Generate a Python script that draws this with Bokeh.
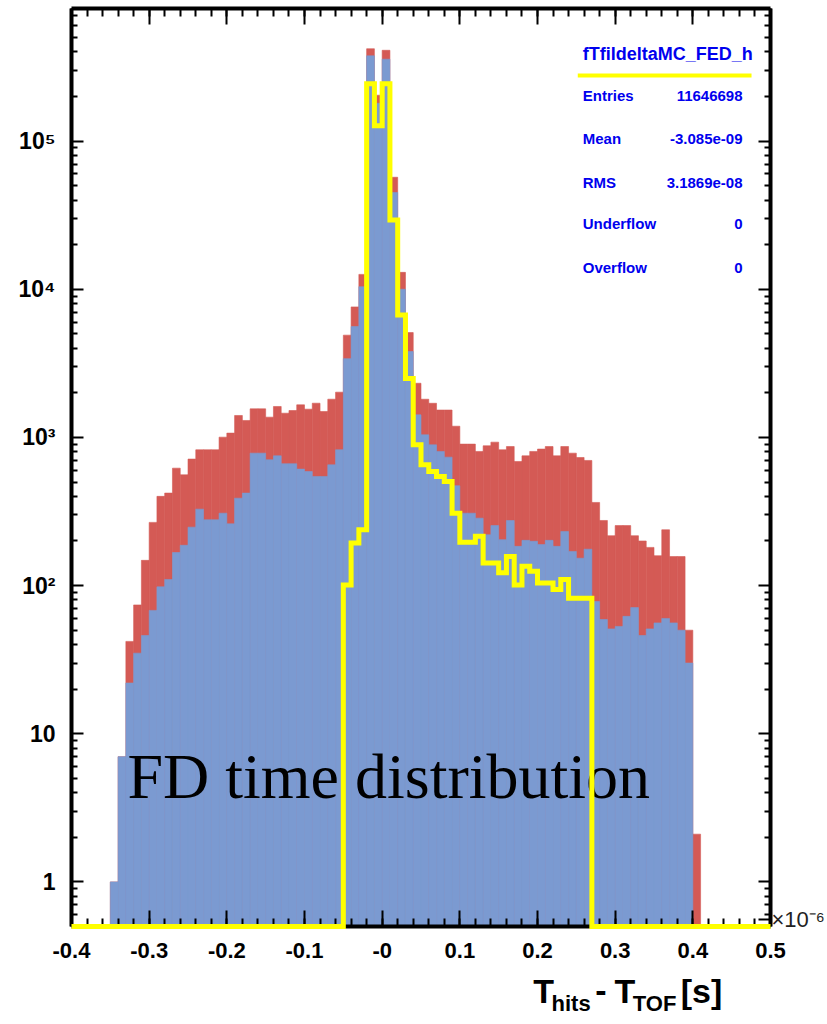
import math
from bokeh.plotting import figure
from bokeh.layouts import column
from bokeh.models import Range1d, FixedTicker, LinearAxis, LogAxis, Label
from bokeh.core.properties import value
from bokeh.embed import file_html
from bokeh.resources import INLINE

# ---------------- data ----------------
bin_start = -0.4
bin_width = 0.01
n_bins = 90

red_counts = [
    0, 0, 0, 0, 0, 1, 7, 42, 74, 148,
    267, 400, 421, 620, 559, 714, 825, 825, 825, 1004,
    1069, 1406, 1301, 1559, 1559, 1370, 1617, 1457, 1519, 1659,
    1551, 1702, 1496, 1811, 2020, 4900, 7600, 12600, 420000, 204000,
    410000, 57000, 13000, 5100, 2320, 1810, 1700, 1530, 1530, 1190,
    901, 901, 804, 878, 929, 825, 868, 688, 751, 804,
    834, 868, 751, 868, 783, 732, 699, 364, 275, 217,
    254, 254, 217, 200, 181, 159, 238, 157, 157, 50,
    2.1, 0, 0, 0, 0, 0, 0, 0, 0, 0,
]
blue_counts = [
    0, 0, 0, 0, 0, 1, 7, 22, 35, 46,
    68, 98, 110, 167, 187, 248, 328, 278, 278, 308,
    261, 389, 421, 783, 783, 706, 751, 664, 664, 611,
    589, 545, 545, 653, 825, 3400, 5600, 10400, 376000, 180000,
    357000, 45000, 10000, 3800, 1420, 1041, 891, 804, 736, 472,
    308, 308, 285, 220, 254, 204, 275, 184, 202, 199,
    189, 202, 184, 232, 170, 153, 176, 78, 59, 51,
    53, 62, 71, 46, 51, 56, 60, 56, 50, 30,
    0, 0, 0, 0, 0, 0, 0, 0, 0, 0,
]
yellow_counts = [
    0, 0, 0, 0, 0, 0, 0, 0, 0, 0,
    0, 0, 0, 0, 0, 0, 0, 0, 0, 0,
    0, 0, 0, 0, 0, 0, 0, 0, 0, 0,
    0, 0, 0, 0, 0, 101, 194, 238, 244000, 127000,
    244000, 29300, 6700, 2500, 893, 653, 589, 545, 504, 308,
    196, 196, 215, 142, 142, 122, 157, 101, 135, 125,
    104, 104, 94, 110, 82, 82, 82, 0, 0, 0,
    0, 0, 0, 0, 0, 0, 0, 0, 0, 0,
    0, 0, 0, 0, 0, 0, 0, 0, 0, 0,
]

x_ticks = [-0.4, -0.3, -0.2, -0.1, 0.0, 0.1, 0.2, 0.3, 0.4, 0.5]
x_tick_labels = ["-0.4", "-0.3", "-0.2", "-0.1", "-0", "0.1", "0.2", "0.3", "0.4", "0.5"]
x_minor_ticks = [round(-0.4 + 0.02 * i, 2) for i in range(46)]
y_ticks = [1, 10, 100, 1000, 10000, 100000]
y_tick_labels = ["1", "10", "10\u00b2", "10\u00b3", "10\u2074", "10\u2075"]
y_minor_ticks = [0.6, 0.7, 0.8, 0.9] + [m * 10 ** d for d in range(6) for m in range(2, 10)]
exponent_text = "\u00d710\u207b\u2076"
exponent_tick = 0.56

stats_title = "fTfildeltaMC_FED_h"
stats_names = ["Entries", "Mean", "RMS", "Underflow", "Overflow"]
stats_values = ["11646698", "-3.085e-09", "3.1869e-08", "0", "0"]
annotation_text = "FD time distribution"
# (text, size class, space before it)
title_parts = [("T", "big", False), ("hits", "sub", False), ("-", "big", True), ("T", "big", True),
               ("TOF", "sub", False), ("[s]", "big", True)]

# ---------------- layout ----------------
W, H = 827, 1024
H2 = 54                      # strip below the plot holding the axis title
H1 = H - H2
FL, FR, FT = 71, 56, 8
FB = H1 - 926
FW, FH = W - FL - FR, H1 - FT - FB
XMIN, XMAX = -0.4, 0.5
YMIN, YMAX = 0.5, 7.85e5
RED = "#D45A55"
BLUE = "#7B9AD1"
YELLOW = "#FFFF00"
STATBLUE = "#0000EE"
SANS = "Liberation Sans"


def dx(px):
    return XMIN + (px - FL) / FW * (XMAX - XMIN)


def dy(py):
    lo, hi = math.log10(YMIN), math.log10(YMAX)
    return 10 ** (hi - (py - FT) / FH * (hi - lo))


p = figure(width=W, height=H1, x_range=Range1d(XMIN, XMAX), y_range=Range1d(YMIN, YMAX),
           y_axis_type="log", output_backend="svg", toolbar_location=None,
           min_border_left=FL, min_border_right=FR, min_border_top=FT, min_border_bottom=FB)
p.grid.visible = False
p.outline_line_color = None
p.background_fill_color = "white"
p.border_fill_color = "white"

left_edges = [bin_start + i * bin_width for i in range(n_bins)]
right_edges = [e + bin_width for e in left_edges]


def bars(counts):
    L, R, T = [], [], []
    for l, r, c in zip(left_edges, right_edges, counts):
        if c > 0:
            L.append(l); R.append(r); T.append(c)
    return L, R, T


L, R, T = bars(red_counts)
p.quad(left=L, right=R, top=T, bottom=YMIN, fill_color=RED, line_color=RED, line_width=0.6)
L, R, T = bars(blue_counts)
p.quad(left=L, right=R, top=T, bottom=YMIN, fill_color=BLUE, line_color=BLUE, line_width=0.6)

step_x = left_edges + [right_edges[-1]]
step_y = [c if c > 0 else YMIN for c in yellow_counts]
step_y.append(step_y[-1])
st = p.step(step_x, step_y, mode="after", line_color=YELLOW, line_width=5, line_join="miter")
st.level = "overlay"


def style(ax, major_in, minor_in, labels):
    ax.axis_line_width = 4
    ax.axis_line_color = "black"
    ax.major_tick_in = major_in
    ax.major_tick_out = 0
    ax.minor_tick_in = minor_in
    ax.minor_tick_out = 0
    ax.major_tick_line_width = 2
    ax.minor_tick_line_width = 2
    ax.major_tick_line_color = "black"
    ax.minor_tick_line_color = "black"
    if labels:
        ax.major_label_text_font = SANS
        ax.major_label_text_font_style = "bold"
        ax.major_label_text_color = "black"
    else:
        ax.major_label_text_font_size = "1px"
        ax.major_label_text_alpha = 0
        ax.major_label_standoff = 0


xa = p.xaxis[0]
xa.ticker = FixedTicker(ticks=x_ticks, minor_ticks=x_minor_ticks)
xa.major_label_overrides = dict(zip(x_ticks, x_tick_labels))
style(xa, 16, 8, True)
xa.major_label_text_font_size = "22px"
xa.major_label_standoff = 16

ya = p.yaxis[0]
ya.ticker = FixedTicker(ticks=y_ticks, minor_ticks=y_minor_ticks)
ya.major_label_overrides = dict(zip(y_ticks, y_tick_labels))
style(ya, 12, 6, True)
ya.major_label_text_font_size = "23px"
ya.major_label_standoff = 16

top = LinearAxis(ticker=FixedTicker(ticks=x_ticks, minor_ticks=x_minor_ticks))
style(top, 16, 8, False)
p.add_layout(top, "above")

# right axis: mirrored ticks; its only label is the x-axis exponent at the bottom corner
right = LogAxis(ticker=FixedTicker(ticks=y_ticks + [exponent_tick], minor_ticks=y_minor_ticks))
style(right, 12, 6, True)
right.major_label_overrides = {**{t: " " for t in y_ticks}, exponent_tick: exponent_text}
right.major_label_text_font_style = "normal"
right.major_label_text_font_size = "22px"
right.major_label_text_color = "#222222"
right.major_label_standoff = 1
p.add_layout(right, "right")

# ---------------- stats box ----------------
p.add_layout(Label(x=dx(583), y=dy(53), text=stats_title, text_font=SANS, text_font_size="18px",
                   text_font_style="bold", text_color=STATBLUE, text_baseline="middle"))
p.segment(x0=[dx(578)], y0=[dy(75)], x1=[dx(752)], y1=[dy(75)], line_color=YELLOW, line_width=4)
for name, val, py in zip(stats_names, stats_values, [95, 138, 182, 223, 267]):
    p.add_layout(Label(x=dx(583), y=dy(py), text=name, text_font=SANS, text_font_size="15px",
                       text_font_style="bold", text_color=STATBLUE, text_baseline="middle"))
    p.add_layout(Label(x=dx(743), y=dy(py), text=val, text_font=SANS, text_font_size="15px",
                       text_font_style="bold", text_color=STATBLUE, text_baseline="middle",
                       text_align="right"))

p.add_layout(Label(x=dx(127), y=dy(776), text=annotation_text, text_font="Liberation Serif",
                   text_font_size="64px", text_color="black", text_baseline="middle"))

# ---------------- axis title strip ----------------
p2 = figure(width=W, height=H2, x_range=Range1d(0, W), y_range=Range1d(H2, 0),
            output_backend="svg", toolbar_location=None, x_axis_location=None,
            y_axis_location=None, min_border=0)
p2.grid.visible = False
p2.outline_line_color = None
p2.background_fill_color = "white"
p2.border_fill_color = "white"

adv = {"T": .611, "h": .611, "i": .278, "t": .333, "s": .556, "-": .333,
       "O": .778, "F": .611, "[": .333, "]": .333}
GAP = 11
sizes = {"big": (34, 990 - H1), "sub": (22, 1003 - H1)}   # (font px, text middle)


def width(txt, fs):
    return sum(adv[c] for c in txt) * fs * 1.04


total = sum(width(txt, sizes[k][0]) + (GAP if sp else 0) for txt, k, sp in title_parts)
cx = 764 - total
for txt, k, sp in title_parts:
    fs, mid = sizes[k]
    if sp:
        cx += GAP
    p2.text(x=[cx], y=[mid], text=[txt], text_font=value(SANS), text_font_size=f"{fs}px",
            text_font_style="bold", text_color="black", text_baseline="middle",
            text_align="left")
    cx += width(txt, fs)

open("out.html", "w").write(file_html(column(p, p2, spacing=0), INLINE))
